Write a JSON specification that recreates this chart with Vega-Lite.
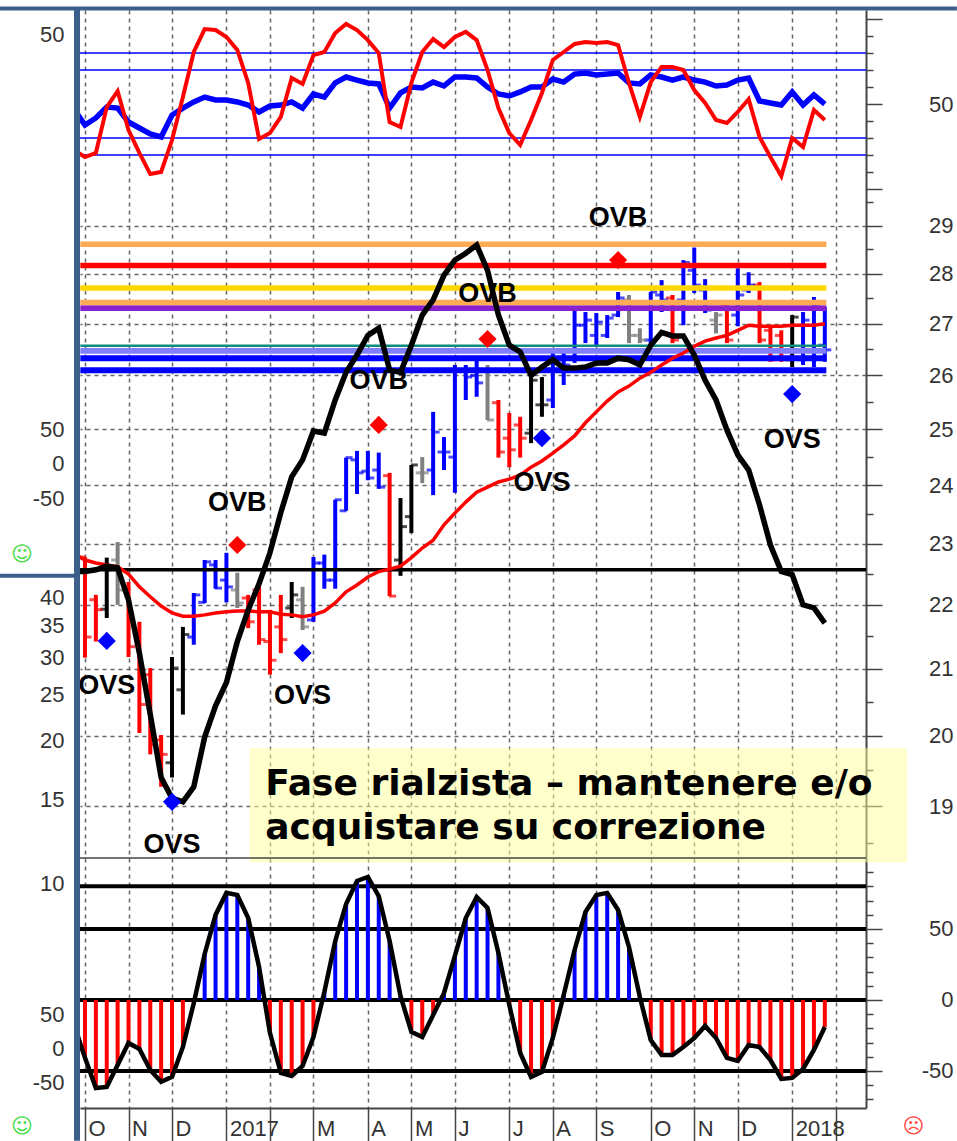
{
"$schema":"https://vega.github.io/schema/vega-lite/v6.json",
"width":786,"height":1098,"autosize":{"type":"none"},
"padding":{"left":80,"top":10,"right":91,"bottom":33},
"background":"white",
"config":{"view":{"stroke":null},"legend":{"disable":true},"font":"Liberation Sans"},
"datasets":{
"weeks":[
{"date":"2016-09-26","ma":22.83,"trend":22.54,"rsiA":47,"rsiB":22.9,"osc":-17.6},
{"date":"2016-10-03","tone":"down","high":22.78,"low":21.17,"open":22.78,"close":21.49,"ma":22.73,"trend":22.54,"rsiA":37.6,"rsiB":18.8,"osc":-40.8},
{"date":"2016-10-10","tone":"down","high":22.16,"low":21.42,"open":22.08,"close":21.92,"ma":22.68,"trend":22.57,"rsiA":41.8,"rsiB":21.2,"osc":-62},
{"date":"2016-10-17","tone":"flat","high":22.77,"low":21.79,"open":21.93,"close":22.57,"ma":22.65,"trend":22.63,"rsiA":48.2,"rsiB":48.2,"osc":-61.3},
{"date":"2016-10-24","tone":"wait","high":23.03,"low":22.0,"open":22.73,"close":22.24,"ma":22.62,"trend":22.6,"rsiA":47.6,"rsiB":57.6,"osc":-45.8},
{"date":"2016-10-31","tone":"down","high":22.37,"low":21.18,"open":22.24,"close":21.34,"ma":22.5,"trend":22.08,"rsiA":39.4,"rsiB":34.7,"osc":-30.3},
{"date":"2016-11-07","tone":"down","high":21.73,"low":20.04,"open":21.6,"close":20.46,"ma":22.29,"trend":21.24,"rsiA":35.9,"rsiB":21.2,"osc":-34.5},
{"date":"2016-11-14","tone":"down","high":21.01,"low":19.73,"open":20.91,"close":19.87,"ma":22.13,"trend":20.31,"rsiA":32.4,"rsiB":8.8,"osc":-49.3},
{"date":"2016-11-21","tone":"down","high":20.01,"low":19.27,"open":19.94,"close":19.73,"ma":21.98,"trend":19.4,"rsiA":30.6,"rsiB":10,"osc":-57.7},
{"date":"2016-11-28","tone":"flat","high":21.18,"low":19.4,"open":19.61,"close":21.01,"ma":21.87,"trend":19.11,"rsiA":43.5,"rsiB":28.8,"osc":-54.2},
{"date":"2016-12-05","tone":"flat","high":21.65,"low":20.31,"open":20.68,"close":21.53,"ma":21.82,"trend":19.06,"rsiA":47.6,"rsiB":54.1,"osc":-33.1},
{"date":"2016-12-12","tone":"up","high":22.19,"low":21.37,"open":21.49,"close":22.16,"ma":21.82,"trend":19.27,"rsiA":51.2,"rsiB":80.6,"osc":-2.1},
{"date":"2016-12-19","tone":"up","high":22.73,"low":22.03,"open":22.04,"close":22.7,"ma":21.84,"trend":19.98,"rsiA":54.1,"rsiB":94.1,"osc":32.4},
{"date":"2016-12-26","tone":"up","high":22.73,"low":22.26,"open":22.65,"close":22.27,"ma":21.87,"trend":20.44,"rsiA":52.4,"rsiB":93.5,"osc":59.9},
{"date":"2017-01-02","tone":"up","high":22.85,"low":22.04,"open":22.4,"close":22.29,"ma":21.89,"trend":20.79,"rsiA":52.4,"rsiB":89.4,"osc":75.4},
{"date":"2017-01-09","tone":"wait","high":22.52,"low":21.95,"open":22.24,"close":22.03,"ma":21.9,"trend":21.42,"rsiA":51.2,"rsiB":81.8,"osc":73.9},
{"date":"2017-01-16","tone":"down","high":22.16,"low":21.63,"open":22.11,"close":21.73,"ma":21.9,"trend":21.92,"rsiA":49.4,"rsiB":62.4,"osc":57.7},
{"date":"2017-01-23","tone":"down","high":22.4,"low":21.37,"open":22.24,"close":21.45,"ma":21.89,"trend":22.34,"rsiA":45.3,"rsiB":29.4,"osc":23.2},
{"date":"2017-01-30","tone":"down","high":21.92,"low":20.91,"open":21.42,"close":21.13,"ma":21.89,"trend":22.85,"rsiA":48.8,"rsiB":32.9,"osc":-23.2},
{"date":"2017-02-06","tone":"down","high":22.16,"low":21.24,"open":21.65,"close":21.45,"ma":21.85,"trend":23.53,"rsiA":49.4,"rsiB":42.4,"osc":-51.4},
{"date":"2017-02-13","tone":"flat","high":22.37,"low":21.79,"open":21.95,"close":22.16,"ma":21.84,"trend":24.15,"rsiA":51.2,"rsiB":65.3,"osc":-53.5},
{"date":"2017-02-20","tone":"wait","high":22.29,"low":21.6,"open":22.08,"close":21.65,"ma":21.81,"trend":24.45,"rsiA":47.6,"rsiB":61.8,"osc":-46.5},
{"date":"2017-02-27","tone":"up","high":22.78,"low":21.73,"open":21.76,"close":22.68,"ma":21.84,"trend":24.97,"rsiA":55.9,"rsiB":78.8,"osc":-26.1},
{"date":"2017-03-06","tone":"up","high":22.82,"low":22.26,"open":22.68,"close":22.4,"ma":21.9,"trend":24.93,"rsiA":54.1,"rsiB":80.6,"osc":5.6},
{"date":"2017-03-13","tone":"up","high":23.75,"low":22.26,"open":22.4,"close":23.75,"ma":22.03,"trend":25.54,"rsiA":62.4,"rsiB":91.8,"osc":41.5},
{"date":"2017-03-20","tone":"up","high":24.49,"low":23.56,"open":23.56,"close":24.49,"ma":22.21,"trend":26.06,"rsiA":65.9,"rsiB":97.1,"osc":67.6},
{"date":"2017-03-27","tone":"up","high":24.61,"low":23.85,"open":24.45,"close":24.22,"ma":22.32,"trend":26.39,"rsiA":64.1,"rsiB":93.5,"osc":83.8},
{"date":"2017-04-03","tone":"up","high":24.61,"low":24.09,"open":24.25,"close":24.13,"ma":22.45,"trend":26.77,"rsiA":62.4,"rsiB":87.6,"osc":86.6},
{"date":"2017-04-10","tone":"up","high":24.58,"low":23.94,"open":24.27,"close":23.97,"ma":22.54,"trend":26.91,"rsiA":61.8,"rsiB":80,"osc":73.2},
{"date":"2017-04-17","tone":"down","high":24.22,"low":22.14,"open":24.17,"close":22.14,"ma":22.58,"trend":26.1,"rsiA":47.6,"rsiB":39.4,"osc":41.5},
{"date":"2017-04-24","tone":"flat","high":23.78,"low":22.47,"open":22.73,"close":23.29,"ma":22.63,"trend":26.06,"rsiA":56.5,"rsiB":36.5,"osc":2.8},
{"date":"2017-05-01","tone":"flat","high":24.36,"low":23.18,"open":23.46,"close":24.36,"ma":22.77,"trend":26.58,"rsiA":60,"rsiB":62.4,"osc":-22.5},
{"date":"2017-05-08","tone":"wait","high":24.5,"low":24.04,"open":24.22,"close":24.22,"ma":22.93,"trend":27.17,"rsiA":59.4,"rsiB":80.6,"osc":-26.1},
{"date":"2017-05-15","tone":"up","high":25.32,"low":23.83,"open":24.27,"close":24.95,"ma":23.06,"trend":27.47,"rsiA":62.9,"rsiB":88.2,"osc":-10.6},
{"date":"2017-05-22","tone":"up","high":24.86,"low":24.27,"open":24.59,"close":24.59,"ma":23.32,"trend":27.97,"rsiA":60.6,"rsiB":83.5,"osc":4.9},
{"date":"2017-05-29","tone":"up","high":26.2,"low":23.87,"open":24.5,"close":26.1,"ma":23.52,"trend":28.28,"rsiA":65.9,"rsiB":89.4,"osc":31},
{"date":"2017-06-05","tone":"up","high":26.2,"low":25.54,"open":26.1,"close":25.97,"ma":23.71,"trend":28.42,"rsiA":65.9,"rsiB":92.4,"osc":57.7},
{"date":"2017-06-12","tone":"up","high":26.3,"low":25.6,"open":26.0,"close":25.86,"ma":23.88,"trend":28.59,"rsiA":65.3,"rsiB":87.6,"osc":72.5},
{"date":"2017-06-19","tone":"wait","high":26.2,"low":25.17,"open":26.1,"close":25.17,"ma":23.97,"trend":28.07,"rsiA":60,"rsiB":70,"osc":64.8},
{"date":"2017-06-26","tone":"down","high":25.54,"low":24.49,"open":25.49,"close":24.59,"ma":24.06,"trend":27.17,"rsiA":55.9,"rsiB":47.6,"osc":33.1},
{"date":"2017-07-03","tone":"down","high":25.3,"low":24.32,"open":24.84,"close":24.63,"ma":24.11,"trend":26.58,"rsiA":54.7,"rsiB":32.9,"osc":-3.5},
{"date":"2017-07-10","tone":"down","high":25.23,"low":24.49,"open":25.08,"close":24.84,"ma":24.18,"trend":26.45,"rsiA":57.1,"rsiB":25.9,"osc":-37.3},
{"date":"2017-07-17","tone":"flat","high":26.04,"low":24.75,"open":24.93,"close":25.91,"ma":24.32,"trend":26.0,"rsiA":60,"rsiB":40.6,"osc":-54.2},
{"date":"2017-07-24","tone":"flat","high":25.97,"low":25.23,"open":25.45,"close":25.45,"ma":24.43,"trend":26.16,"rsiA":60,"rsiB":56.5,"osc":-50.7},
{"date":"2017-07-31","tone":"up","high":26.43,"low":25.39,"open":25.54,"close":26.33,"ma":24.57,"trend":26.3,"rsiA":64.7,"rsiB":75.9,"osc":-26.8},
{"date":"2017-08-07","tone":"up","high":26.43,"low":25.82,"open":26.3,"close":26.2,"ma":24.72,"trend":26.14,"rsiA":62.9,"rsiB":80.6,"osc":3.5},
{"date":"2017-08-14","tone":"up","high":27.27,"low":26.24,"open":26.49,"close":26.97,"ma":24.88,"trend":26.14,"rsiA":67.6,"rsiB":85.3,"osc":35.2},
{"date":"2017-08-21","tone":"up","high":27.23,"low":26.62,"open":26.97,"close":27.07,"ma":25.12,"trend":26.16,"rsiA":68.2,"rsiB":86.5,"osc":62},
{"date":"2017-08-28","tone":"up","high":27.21,"low":26.58,"open":26.77,"close":27.03,"ma":25.32,"trend":26.24,"rsiA":67.1,"rsiB":85.9,"osc":73.9},
{"date":"2017-09-04","tone":"up","high":27.17,"low":26.72,"open":26.77,"close":27.11,"ma":25.52,"trend":26.24,"rsiA":67.6,"rsiB":86.5,"osc":75.4},
{"date":"2017-09-11","tone":"up","high":27.63,"low":27.13,"open":27.17,"close":27.51,"ma":25.69,"trend":26.33,"rsiA":68.2,"rsiB":84.7,"osc":63.4},
{"date":"2017-09-18","tone":"wait","high":27.57,"low":26.62,"open":27.47,"close":26.77,"ma":25.8,"trend":26.3,"rsiA":62.4,"rsiB":62.4,"osc":37.3},
{"date":"2017-09-25","tone":"wait","high":26.91,"low":26.62,"open":26.77,"close":26.68,"ma":25.95,"trend":26.2,"rsiA":61.8,"rsiB":42.4,"osc":2.1},
{"date":"2017-10-02","tone":"up","high":27.63,"low":26.58,"open":26.68,"close":27.63,"ma":26.06,"trend":26.58,"rsiA":67.1,"rsiB":62.9,"osc":-28.2},
{"date":"2017-10-09","tone":"up","high":27.87,"low":27.23,"open":27.57,"close":27.47,"ma":26.2,"trend":26.83,"rsiA":65.9,"rsiB":71.8,"osc":-38.7},
{"date":"2017-10-16","tone":"down","high":27.57,"low":26.62,"open":27.51,"close":26.68,"ma":26.33,"trend":26.76,"rsiA":64.1,"rsiB":71.8,"osc":-38.7},
{"date":"2017-10-23","tone":"up","high":28.28,"low":26.97,"open":27.47,"close":28.23,"ma":26.43,"trend":26.76,"rsiA":65.9,"rsiB":70,"osc":-33.1},
{"date":"2017-10-30","tone":"up","high":28.54,"low":27.61,"open":28.07,"close":27.77,"ma":26.56,"trend":26.39,"rsiA":64.1,"rsiB":58.2,"osc":-26.8},
{"date":"2017-11-06","tone":"up","high":27.89,"low":27.21,"open":27.67,"close":27.27,"ma":26.66,"trend":25.91,"rsiA":62.9,"rsiB":50.6,"osc":-18.3},
{"date":"2017-11-13","tone":"wait","high":27.23,"low":26.81,"open":27.07,"close":27.17,"ma":26.72,"trend":25.54,"rsiA":60.6,"rsiB":40.6,"osc":-26.8},
{"date":"2017-11-20","tone":"down","high":27.47,"low":26.62,"open":27.37,"close":26.68,"ma":26.77,"trend":24.99,"rsiA":61.2,"rsiB":38.8,"osc":-40.8},
{"date":"2017-11-27","tone":"up","high":28.11,"low":26.95,"open":27.17,"close":27.57,"ma":26.87,"trend":24.54,"rsiA":64.1,"rsiB":45.3,"osc":-43},
{"date":"2017-12-04","tone":"up","high":28.03,"low":27.61,"open":27.67,"close":27.77,"ma":26.97,"trend":24.27,"rsiA":65.3,"rsiB":52.9,"osc":-31.7},
{"date":"2017-12-11","tone":"down","high":27.83,"low":26.62,"open":27.77,"close":26.68,"ma":26.95,"trend":23.66,"rsiA":51.8,"rsiB":30.6,"osc":-33.1},
{"date":"2017-12-18","tone":"down","high":26.93,"low":26.26,"open":26.87,"close":26.3,"ma":26.95,"trend":22.98,"rsiA":50.6,"rsiB":18.8,"osc":-42.3},
{"date":"2017-12-25","tone":"down","high":26.87,"low":26.26,"open":26.77,"close":26.3,"ma":26.95,"trend":22.54,"rsiA":49.4,"rsiB":7.6,"osc":-55.6},
{"date":"2018-01-01","tone":"flat","high":27.17,"low":26.16,"open":26.3,"close":27.13,"ma":26.97,"trend":22.49,"rsiA":57.1,"rsiB":30,"osc":-54.9},
{"date":"2018-01-08","tone":"up","high":27.23,"low":26.2,"open":26.3,"close":27.07,"ma":26.97,"trend":22.0,"rsiA":49.4,"rsiB":24.7,"osc":-48.6},
{"date":"2018-01-15","tone":"up","high":27.53,"low":26.16,"open":26.49,"close":27.37,"ma":26.97,"trend":21.95,"rsiA":55.3,"rsiB":46.5,"osc":-35.2},
{"date":"2018-01-22","tone":"up","high":27.33,"low":26.26,"open":26.58,"close":26.49,"ma":27.0,"trend":21.71,"rsiA":50,"rsiB":40.6,"osc":-19}
],
"levels":[
{"name":"res3","price":28.61,"from":"2016-09-30","to":"2018-01-23"},
{"name":"res2","price":28.17,"from":"2016-09-30","to":"2018-01-23"},
{"name":"res1","price":27.71,"from":"2016-09-30","to":"2018-01-23"},
{"name":"res0","price":27.31,"from":"2016-09-30","to":"2018-01-23"},
{"name":"res3","price":27.42,"from":"2016-09-30","to":"2018-01-23"},
{"name":"lav","price":26.47,"from":"2016-09-30","to":"2018-01-23"},
{"name":"sup1","price":26.33,"from":"2016-09-30","to":"2018-01-23"},
{"name":"sup2","price":26.1,"from":"2016-09-30","to":"2018-01-23"}
],
"signals":[
{"date":"2016-10-17","price":21.43,"tone":"up"},
{"date":"2016-11-28","price":19.06,"tone":"up"},
{"date":"2017-02-20","price":21.24,"tone":"up"},
{"date":"2017-07-24","price":24.84,"tone":"up"},
{"date":"2018-01-01","price":25.65,"tone":"up"},
{"date":"2017-01-09","price":22.98,"tone":"down"},
{"date":"2017-04-10","price":25.08,"tone":"down"},
{"date":"2017-06-19","price":26.7,"tone":"down"},
{"date":"2017-09-11","price":28.28,"tone":"down"}
],
"tags":[
{"date":"2016-10-17","price":20.74,"label":"OVS"},
{"date":"2017-01-09","price":23.7,"label":"OVB"},
{"date":"2016-11-28","price":18.47,"label":"OVS"},
{"date":"2017-02-20","price":20.58,"label":"OVS"},
{"date":"2017-04-10","price":25.89,"label":"OVB"},
{"date":"2017-06-19","price":27.59,"label":"OVB"},
{"date":"2017-07-24","price":24.04,"label":"OVS"},
{"date":"2017-09-11","price":29.17,"label":"OVB"},
{"date":"2018-01-01","price":24.81,"label":"OVS"}
]
},
"resolve":{"scale":{"y":"independent","color":"independent"},"axis":{"y":"independent"}},
"layer":[
{
"layer":[
{"data":{"values":[{"from":"2017-01-17","to":"2018-03-16","low":18.24,"high":19.82}]},
 "mark":{"type":"rect","color":"#FFFF99","opacity":0.5},
 "encoding":{
  "x":{"field":"from","type":"temporal","scale":{"domain":["2016-09-29T19:00:00","2018-02-17T12:00:00"]},
   "axis":{"title":null,"orient":"bottom","values":["2016-10-03","2016-10-31","2016-11-28","2017-01-02","2017-01-30","2017-02-27","2017-04-03","2017-05-01","2017-05-29","2017-07-03","2017-07-31","2017-08-28","2017-10-02","2017-10-30","2017-11-27","2018-01-01","2018-01-29"],
   "labelExpr":"{'2016-10-03':'O','2016-10-31':'N','2016-11-28':'D','2017-01-02':'2017','2017-02-27':'M','2017-04-03':'A','2017-05-01':'M','2017-05-29':'J','2017-07-03':'J','2017-07-31':'A','2017-08-28':'S','2017-10-02':'O','2017-10-30':'N','2017-11-27':'D','2018-01-01':'2018'}[utcFormat(datum.value,'%Y-%m-%d')] || ''",
   "labelAlign":"left","labelBaseline":"top","labelOffset":3,"labelPadding":-23,"labelFontSize":22,"labelColor":"#333333","labelOverlap":false,"labelBound":false,"labelFlush":false,"tickSize":33,"tickColor":"#444444","tickWidth":1.5,"domainColor":"#444444","domainWidth":2,"grid":true,"gridColor":"#666666","gridDash":[4,4],"gridWidth":1.5}},
  "x2":{"field":"to"},
  "y":{"field":"low","type":"quantitative","scale":{"type":"log","domain":[15.25,33.93],"nice":false,"zero":false},
   "axis":{"title":null,"orient":"right","values":[18.5,19,19.5,20,20.5,21,21.5,22,22.5,23,23.5,24,24.5,25,25.5,26,26.5,27,27.5,28,28.5,29,29.5],
    "labelExpr":"datum.value%1==0 ? format(datum.value,'d') : ''","labelAlign":"right","labelPadding":71,"labelFontSize":22,"labelColor":"#333333","labelOverlap":false,"labelBound":false,"labelFlush":false,
    "tickSize":{"condition":{"test":"datum.value%1==0","value":16},"value":7},"tickColor":"#444444","tickWidth":1.5,"domainColor":"#444444","domainWidth":2,
    "grid":true,"gridColor":"#666666","gridDash":[4,4],"gridWidth":1.5,"gridOpacity":{"condition":{"test":"datum.value%1==0 && datum.value>=19","value":1},"value":0}}},
  "y2":{"field":"high"}}},
{"data":{"name":"weeks"},"transform":[{"filter":"isValid(datum.high)"}],"mark":{"type":"rule","strokeWidth":4},
 "encoding":{"x":{"field":"date","type":"temporal"},"y":{"field":"high","type":"quantitative"},"y2":{"field":"low"},
  "color":{"field":"tone","type":"nominal","scale":{"domain":["up","down","flat","wait","res3","res2","res1","res0","lav","sup1","sup2","smile","frown"],"range":["#0000FF","#FF0000","#000000","#808080","#FFAA55","#FF0000","#FFD700","#8A1FD0","#8080FF","#0000FF","#0000FF","#44DD44","#FF4444"]}}}},
{"data":{"name":"weeks"},"transform":[{"filter":"isValid(datum.high)"}],"mark":{"type":"tick","orient":"horizontal","size":7,"thickness":3,"xOffset":-3},
 "encoding":{"x":{"field":"date","type":"temporal"},"y":{"field":"open","type":"quantitative"},"color":{"field":"tone","type":"nominal"}}},
{"data":{"name":"weeks"},"transform":[{"filter":"isValid(datum.high)"}],"mark":{"type":"tick","orient":"horizontal","size":7,"thickness":3,"xOffset":3},
 "encoding":{"x":{"field":"date","type":"temporal"},"y":{"field":"close","type":"quantitative"},"color":{"field":"tone","type":"nominal"}}},
{"data":{"name":"levels"},"mark":{"type":"rule"},
 "encoding":{"x":{"field":"from","type":"temporal"},"x2":{"field":"to"},"y":{"field":"price","type":"quantitative"},
  "color":{"field":"name","type":"nominal"},
  "strokeWidth":{"field":"name","type":"nominal","scale":{"domain":["res3","res2","res1","res0","lav","sup1","sup2"],"range":[5.5,6,5,4,6,4,5]}}}},
{"data":{"values":[{"from":"2016-09-30","to":"2018-01-23","price":26.57}]},"mark":{"type":"rule","color":"#0B8A80","strokeWidth":2.5},
 "encoding":{"x":{"field":"from","type":"temporal"},"x2":{"field":"to"},"y":{"field":"price","type":"quantitative"}}},
{"data":{"values":[{"price":22.57}]},"mark":{"type":"rule","color":"#000000","strokeWidth":3.5},
 "encoding":{"y":{"field":"price","type":"quantitative"}}},
{"data":{"name":"weeks"},"mark":{"type":"line","color":"#FF0000","strokeWidth":3.5,"clip":true},
 "encoding":{"x":{"field":"date","type":"temporal"},"y":{"field":"ma","type":"quantitative"}}},
{"data":{"name":"weeks"},"mark":{"type":"line","color":"#000000","strokeWidth":5.5,"clip":true},
 "encoding":{"x":{"field":"date","type":"temporal"},"y":{"field":"trend","type":"quantitative"}}},
{"data":{"name":"signals"},"mark":{"type":"point","shape":"diamond","filled":true,"size":330,"opacity":1},
 "encoding":{"x":{"field":"date","type":"temporal"},"y":{"field":"price","type":"quantitative"},"color":{"field":"tone","type":"nominal"}}},
{"data":{"name":"tags"},"mark":{"type":"text","font":"Liberation Sans","fontSize":27,"fontWeight":"bold","color":"#000000","align":"center","baseline":"middle"},
 "encoding":{"x":{"field":"date","type":"temporal"},"y":{"field":"price","type":"quantitative"},"text":{"field":"label"}}},
{"data":{"values":[{"date":"2017-01-27","price":19.31,"label":"Fase rialzista – mantenere e/o"},{"date":"2017-01-27","price":18.7,"label":"acquistare su correzione"}]},
 "mark":{"type":"text","font":"DejaVu Sans","fontSize":36,"fontWeight":"bold","color":"#000000","align":"left","baseline":"middle"},
 "encoding":{"x":{"field":"date","type":"temporal"},"y":{"field":"price","type":"quantitative"},"text":{"field":"label"}}},
{"data":{"values":[{"date":"2016-08-23T12:00:00","price":22.81,"label":"☺","tone":"smile"},{"date":"2016-08-23T12:00:00","price":15.04,"label":"☺","tone":"smile"},{"date":"2018-03-20","price":15.04,"label":"☹","tone":"frown"}]},
 "mark":{"type":"text","font":"DejaVu Sans","fontSize":21,"align":"center","baseline":"middle"},
 "encoding":{"x":{"field":"date","type":"temporal"},"y":{"field":"price","type":"quantitative"},"text":{"field":"label"},"color":{"field":"tone","type":"nominal"}}},
{"data":{"values":[{"from":"2016-08-09","to":"2018-04-17","price":33.97},{"from":"2016-08-09","to":"2016-09-28","price":22.47}]},
 "mark":{"type":"rule","color":"#3B5F8A","strokeWidth":4},
 "encoding":{"x":{"field":"from","type":"temporal"},"x2":{"field":"to"},"y":{"field":"price","type":"quantitative"}}},
{"data":{"values":[{"date":"2016-09-27T21:00:00","top":33.97,"bottom":14.89}]},
 "mark":{"type":"rule","color":"#3B5F8A","strokeWidth":6},
 "encoding":{"x":{"field":"date","type":"temporal"},"y":{"field":"top","type":"quantitative"},"y2":{"field":"bottom"}}}
]},
{
"layer":[
{"data":{"values":[{"level":80},{"level":70},{"level":30},{"level":20}]},"mark":{"type":"rule","color":"#0000FF","strokeWidth":1.5},
 "encoding":{"y":{"field":"level","type":"quantitative","scale":{"domain":[-540.6,105.3],"nice":false,"zero":false},
  "axis":{"title":null,"orient":"right","values":[0,10,20,30,40,50,60,70,80,90,100],"labelExpr":"datum.value==50 ? '50' : ''","labelAlign":"right","labelPadding":71,"labelFontSize":22,"labelColor":"#333333","labelOverlap":false,"labelBound":false,"labelFlush":false,
  "tickSize":{"condition":{"test":"datum.value%50==0","value":16},"value":7},"tickColor":"#444444","tickWidth":1.5,"domain":false,"grid":false}}}},
{"data":{"name":"weeks"},"mark":{"type":"line","color":"#0000FF","strokeWidth":5.5,"clip":true},
 "encoding":{"x":{"field":"date","type":"temporal"},"y":{"field":"rsiA","type":"quantitative"}}},
{"data":{"name":"weeks"},"mark":{"type":"line","color":"#FF0000","strokeWidth":4,"clip":true},
 "encoding":{"x":{"field":"date","type":"temporal"},"y":{"field":"rsiB","type":"quantitative"}}}
]},
{
"layer":[
{"data":{"values":[{"level":80},{"level":50},{"level":0},{"level":-50}]},"mark":{"type":"rule","color":"#000000","strokeWidth":4},
 "encoding":{"y":{"field":"level","type":"quantitative","scale":{"domain":[-76.1,697.2],"nice":false,"zero":false},
  "axis":{"title":null,"orient":"right","values":[-70,-60,-50,-40,-30,-20,-10,0,10,20,30,40,50,60,70,80,90],"labelExpr":"datum.value%50==0 ? ''+datum.value : ''","labelAlign":"right","labelPadding":71,"labelFontSize":22,"labelColor":"#333333","labelOverlap":false,"labelBound":false,"labelFlush":false,
  "tickSize":{"condition":{"test":"datum.value%50==0","value":16},"value":7},"tickColor":"#444444","tickWidth":1.5,"domain":false,"grid":false}}}},
{"data":{"values":[{"level":100}]},"mark":{"type":"rule","color":"#444444","strokeWidth":1.5},
 "encoding":{"y":{"field":"level","type":"quantitative"}}},
{"data":{"name":"weeks"},"transform":[{"filter":"isValid(datum.high)"}],"mark":{"type":"rule","strokeWidth":4},
 "encoding":{"x":{"field":"date","type":"temporal"},"y":{"field":"osc","type":"quantitative"},"y2":{"datum":0},
  "color":{"condition":{"test":"datum.osc>=0","value":"#0000FF"},"value":"#FF0000"}}},
{"data":{"name":"weeks"},"mark":{"type":"line","color":"#000000","strokeWidth":4.5,"clip":true},
 "encoding":{"x":{"field":"date","type":"temporal"},"y":{"field":"osc","type":"quantitative"}}}
]},
{"data":{"values":[{"v":50}]},"mark":{"type":"point","opacity":0},
 "encoding":{"y":{"field":"v","type":"quantitative","scale":{"domain":[-581.2,64.7],"nice":false,"zero":false},
  "axis":{"title":null,"orient":"left","values":[50],"ticks":false,"domain":false,"grid":false,"labelPadding":16,"labelFontSize":22,"labelColor":"#333333","labelBound":false,"labelFlush":false}}}},
{"data":{"values":[{"v":50},{"v":0},{"v":-50}]},"mark":{"type":"point","opacity":0},
 "encoding":{"y":{"field":"v","type":"quantitative","scale":{"domain":[-947,667.6],"nice":false,"zero":false},
  "axis":{"title":null,"orient":"left","values":[50,0,-50],"labelExpr":"''+datum.value","ticks":false,"domain":false,"grid":false,"labelPadding":16,"labelFontSize":22,"labelColor":"#333333","labelBound":false,"labelFlush":false}}}},
{"data":{"values":[{"v":10},{"v":15},{"v":20},{"v":25},{"v":30},{"v":35},{"v":40}]},"mark":{"type":"point","opacity":0},
 "encoding":{"y":{"field":"v","type":"quantitative","scale":{"type":"log","domain":[3.36,694.6],"nice":false,"zero":false},
  "axis":{"title":null,"orient":"left","values":[10,15,20,25,30,35,40],"format":"d","labelOverlap":false,"ticks":false,"domain":false,"grid":false,"labelPadding":16,"labelFontSize":22,"labelColor":"#333333","labelBound":false,"labelFlush":false}}}},
{"data":{"values":[{"v":50},{"v":0},{"v":-50}]},"mark":{"type":"point","opacity":0},
 "encoding":{"y":{"field":"v","type":"quantitative","scale":{"domain":[-86.8,1528],"nice":false,"zero":false},
  "axis":{"title":null,"orient":"left","values":[50,0,-50],"labelExpr":"''+datum.value","ticks":false,"domain":false,"grid":false,"labelPadding":16,"labelFontSize":22,"labelColor":"#333333","labelBound":false,"labelFlush":false}}}}
]
}
